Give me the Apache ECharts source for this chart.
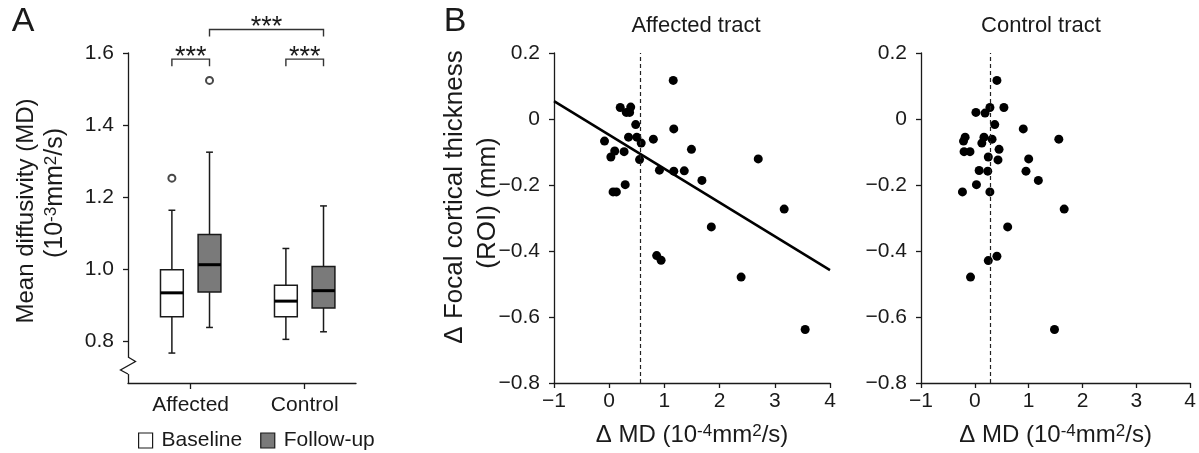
<!DOCTYPE html>
<html><head><meta charset="utf-8">
<script src="https://cdn.jsdelivr.net/npm/echarts@6/dist/echarts.min.js"></script>
<style>html,body{margin:0;padding:0;background:#fff}#c{width:1199px;height:453px}</style>
</head><body><div id="c"></div>
<script>
// ---------------- DATA ----------------
const groups = ['Affected', 'Control'];
const conditions = ['Baseline', 'Follow-up'];
// box statistics per group: [lower whisker, Q1, median, Q3, upper whisker]
const baselineBox = [[0.768, 0.869, 0.935, 0.999, 1.164], [0.806, 0.869, 0.912, 0.956, 1.058]];
const followupBox = [[0.839, 0.937, 1.013, 1.097, 1.325], [0.827, 0.893, 0.941, 1.008, 1.176]];
// outliers: [group index, value]
const baselineOutliers = [[0, 1.253]];
const followupOutliers = [[0, 1.524]];
const yTicksA = [0.8, 1.0, 1.2, 1.4, 1.6];
// significance brackets: [group, condition] -> [group, condition]
const sigFrom = [[0, 0], [1, 0], [0, 1]];
const sigTo = [[0, 1], [1, 1], [1, 1]];
const sigLabel = ['***', '***', '***'];
const sigLevel = [1.583, 1.583, 1.665];

const affectedMD = [1.16, 0.20, 0.39, 0.31, 0.37, 0.48, 1.17, 0.35, 0.50, 0.58, 0.80, -0.085, 0.10, 0.03, 0.27, 1.49, 0.55, 2.70, 0.91, 1.17, 1.36, 1.68, 0.29, 0.07, 0.13, 3.17, 1.85, 0.86, 0.94, 2.39, 3.55];
const affectedThick = [0.117, 0.035, 0.036, 0.020, 0.020, -0.017, -0.030, -0.055, -0.055, -0.073, -0.061, -0.067, -0.097, -0.115, -0.099, -0.092, -0.123, -0.121, -0.155, -0.158, -0.157, -0.186, -0.199, -0.221, -0.221, -0.273, -0.327, -0.414, -0.428, -0.479, -0.638];
const controlMD = [0.41, 0.02, 0.19, 0.28, 0.54, 0.37, 0.90, -0.18, -0.21, 0.17, 0.13, 0.32, 1.56, -0.20, -0.09, 0.45, 0.25, 0.43, 1.00, 0.08, 0.24, 0.95, 1.18, 0.03, -0.23, 0.28, 1.66, 0.61, 0.41, 0.25, -0.08, 1.48];
const controlThick = [0.117, 0.020, 0.018, 0.035, 0.035, -0.017, -0.030, -0.055, -0.067, -0.055, -0.073, -0.061, -0.061, -0.099, -0.099, -0.092, -0.115, -0.124, -0.121, -0.156, -0.158, -0.158, -0.186, -0.199, -0.221, -0.221, -0.273, -0.327, -0.416, -0.429, -0.479, -0.638];
const affectedMeanMD = 0.56;
const controlMeanMD = 0.28;
const fitMD = [-1, 4];
const fitThick = [0.054, -0.458];

// ---------------- LAYOUT ----------------
const FONT = '"Liberation Sans", Arial, sans-serif';
const INK = '#1a1a1a';
const groupPos = [1.1, 3.1];
const condOffset = [-0.33, 0.33];
const BOX_W = 0.4, CAP_W = 0.12;
const posOf = (g, c) => groupPos[g] + condOffset[c];

const toBoxData = (stats, c) => stats.map((s, g) => [posOf(g, c)].concat(s));
const toOutData = (arr, c) => arr.map(o => [posOf(o[0], c), o[1]]);
const zip = (a, b) => a.map((v, i) => [v, b[i]]);
const minusFmt = v => (v === 0 ? '0' : String(+v.toFixed(1)).replace('-', '\u2212'));

function renderBox(params, api) {
  const x = api.value(0);
  const lo = api.coord([x, api.value(1)]), q1 = api.coord([x, api.value(2)]),
        md = api.coord([x, api.value(3)]), q3 = api.coord([x, api.value(4)]),
        hi = api.coord([x, api.value(5)]);
  const hw = api.size([BOX_W, 0])[0] / 2, cw = api.size([CAP_W, 0])[0] / 2;
  const ls = { stroke: INK, lineWidth: 1.5 };
  return { type: 'group', children: [
    { type: 'line', shape: { x1: hi[0], y1: hi[1], x2: q3[0], y2: q3[1] }, style: ls },
    { type: 'line', shape: { x1: q1[0], y1: q1[1], x2: lo[0], y2: lo[1] }, style: ls },
    { type: 'line', shape: { x1: hi[0] - cw, y1: hi[1], x2: hi[0] + cw, y2: hi[1] }, style: ls },
    { type: 'line', shape: { x1: lo[0] - cw, y1: lo[1], x2: lo[0] + cw, y2: lo[1] }, style: ls },
    { type: 'rect', shape: { x: q3[0] - hw, y: q3[1], width: 2 * hw, height: q1[1] - q3[1] },
      style: { fill: api.visual('color'), stroke: INK, lineWidth: 1.5 } },
    { type: 'line', shape: { x1: md[0] - hw, y1: md[1], x2: md[0] + hw, y2: md[1] }, style: { stroke: '#000', lineWidth: 3 } }
  ] };
}
function renderBracket(params, api) {
  const a = api.coord([api.value(0), api.value(2)]);
  const b = api.coord([api.value(1), api.value(2)]);
  const drop = 7;
  return { type: 'group', children: [
    { type: 'polyline', shape: { points: [[a[0], a[1] + drop], a, b, [b[0], b[1] + drop]] },
      style: { stroke: '#333', lineWidth: 1.4, fill: null } },
    { type: 'text', x: (a[0] + b[0]) / 2, y: a[1] - 2,
      style: { text: sigLabel[params.dataIndex], fontSize: 27, fontFamily: FONT, fill: INK, align: 'center', verticalAlign: 'middle' } }
  ] };
}
const bracketData = sigFrom.map((f, i) => [posOf(f[0], f[1]), posOf(sigTo[i][0], sigTo[i][1]), sigLevel[i]]);

const axisLineStyle = { onZero: false, lineStyle: { color: INK, width: 1.3 } };
const tickStyle = { show: true, length: 5, lineStyle: { color: INK, width: 1.3 } };
const labelStyle = { color: INK, fontSize: 21, fontFamily: FONT };

function scatterX(idx) {
  return { gridIndex: idx, type: 'value', min: -1, max: 4, interval: 1,
    axisLine: axisLineStyle, axisTick: tickStyle, splitLine: { show: false },
    axisLabel: Object.assign({ margin: 8, formatter: minusFmt }, labelStyle),
    name: '\u0394 MD (10{sup|-4}mm{sup|2}/s)', nameLocation: 'middle', nameGap: 40,
    nameTextStyle: { fontSize: 24, fontFamily: FONT, color: INK, rich: { sup: { fontSize: 17, verticalAlign: 'top', fontFamily: FONT, color: INK } } } };
}
function scatterY(idx) {
  return { gridIndex: idx, type: 'value', min: -0.8, max: 0.2, interval: 0.2,
    axisLine: axisLineStyle, axisTick: tickStyle, splitLine: { show: false },
    axisLabel: Object.assign({ margin: 14, formatter: minusFmt }, labelStyle) };
}

const chart = echarts.init(document.getElementById('c'), null, { renderer: 'canvas' });
chart.setOption({
  animation: false,
  backgroundColor: '#fff',
  textStyle: { fontFamily: FONT, color: INK },
  grid: [
    { left: 128, top: 53, width: 228, height: 330 },
    { left: 554, top: 53, width: 276, height: 330 },
    { left: 921, top: 53, width: 271, height: 330 }
  ],
  xAxis: [
    { gridIndex: 0, type: 'value', min: 0, max: 4,
      axisLine: axisLineStyle, splitLine: { show: false },
      axisTick: Object.assign({ customValues: groupPos }, tickStyle, { length: 6 }),
      axisLabel: Object.assign({ customValues: groupPos, margin: 12,
        formatter: v => groups[groupPos.indexOf(v)] }, labelStyle) },
    scatterX(1), scatterX(2)
  ],
  yAxis: [
    { gridIndex: 0, type: 'value', min: 0.685, max: 1.6,
      axisLine: axisLineStyle, splitLine: { show: false },
      axisTick: Object.assign({ customValues: yTicksA }, tickStyle),
      axisLabel: Object.assign({ customValues: yTicksA, margin: 14, formatter: v => v.toFixed(1) }, labelStyle) },
    scatterY(1), scatterY(2)
  ],
  legend: {
    data: conditions, left: 133, top: 425, icon: 'rect', itemWidth: 14, itemHeight: 15, itemGap: 18,
    textStyle: { fontSize: 21, fontFamily: FONT, color: INK, padding: [0, 0, 0, 4] },
    itemStyle: { borderColor: INK, borderWidth: 1.2 }, selectedMode: false
  },
  series: [
    { name: conditions[0], type: 'custom', xAxisIndex: 0, yAxisIndex: 0, renderItem: renderBox,
      itemStyle: { color: '#ffffff', borderColor: INK, borderWidth: 1.2 },
      encode: { x: 0, y: [1, 2, 3, 4, 5] }, data: toBoxData(baselineBox, 0), z: 3 },
    { name: conditions[1], type: 'custom', xAxisIndex: 0, yAxisIndex: 0, renderItem: renderBox,
      itemStyle: { color: '#7a7a7a', borderColor: INK, borderWidth: 1.2 },
      encode: { x: 0, y: [1, 2, 3, 4, 5] }, data: toBoxData(followupBox, 1), z: 3 },
    { name: 'Baseline outliers', type: 'scatter', xAxisIndex: 0, yAxisIndex: 0, symbol: 'emptyCircle', symbolSize: 7,
      itemStyle: { color: INK, borderWidth: 1.3 }, data: toOutData(baselineOutliers, 0) },
    { name: 'Follow-up outliers', type: 'scatter', xAxisIndex: 0, yAxisIndex: 0, symbol: 'emptyCircle', symbolSize: 7,
      itemStyle: { color: INK, borderWidth: 1.3 }, data: toOutData(followupOutliers, 1) },
    { name: 'Significance', type: 'custom', xAxisIndex: 0, yAxisIndex: 0, renderItem: renderBracket,
      clip: false, encode: { x: [0, 1], y: 2 }, data: bracketData },
    { name: 'Affected tract', type: 'scatter', xAxisIndex: 1, yAxisIndex: 1, symbolSize: 9,
      itemStyle: { color: '#000', opacity: 1 }, data: zip(affectedMD, affectedThick),
      markLine: { silent: true, symbol: 'none', label: { show: false },
        lineStyle: { type: [4, 3], color: '#222', width: 1.2 }, data: [{ xAxis: affectedMeanMD }] } },
    { name: 'Fit', type: 'line', xAxisIndex: 1, yAxisIndex: 1, symbol: 'none',
      lineStyle: { color: '#000', width: 2.5 }, data: zip(fitMD, fitThick) },
    { name: 'Control tract', type: 'scatter', xAxisIndex: 2, yAxisIndex: 2, symbolSize: 9,
      itemStyle: { color: '#000', opacity: 1 }, data: zip(controlMD, controlThick),
      markLine: { silent: true, symbol: 'none', label: { show: false },
        lineStyle: { type: [4, 3], color: '#222', width: 1.2 }, data: [{ xAxis: controlMeanMD }] } }
  ]
});

// axis break and text annotations
const br = chart.convertToPixel({ gridIndex: 0 }, [0, 0.732]);
const ax = br[0], by = br[1];
const txt = (x, y, text, size, extra) => ({ type: 'text', x, y, rotation: (extra && extra.rot) || 0, silent: true,
  style: Object.assign({ text, fontSize: size, fontFamily: FONT, fill: INK, align: 'center', verticalAlign: 'middle',
    rich: { sup: { fontSize: Math.round(size * 0.68), verticalAlign: 'top', fontFamily: FONT, color: INK } } }, (extra && extra.style) || {}) });
chart.setOption({
  graphic: [
    { type: 'rect', shape: { x: ax - 3, y: by - 9, width: 6, height: 17 }, style: { fill: '#fff' }, z: 100, silent: true },
    { type: 'polyline', shape: { points: [[ax, by - 9], [ax + 7.5, by - 4.5], [ax - 7.5, by + 4], [ax, by + 8]] },
      style: { stroke: INK, lineWidth: 1.3, fill: null }, z: 101, silent: true },
    txt(23, 22, 'A', 34),
    txt(455, 22, 'B', 34),
    txt(26, 211, 'Mean diffusivity (MD)', 24, { rot: Math.PI / 2 }),
    txt(55, 193, '(10{sup|-3}mm{sup|2}/s)', 25, { rot: Math.PI / 2 }),
    txt(455, 197, '\u0394 Focal cortical thickness', 26, { rot: Math.PI / 2 }),
    txt(488, 203, '(ROI) (mm)', 26, { rot: Math.PI / 2 }),
    txt(696, 26, 'Affected tract', 22),
    txt(1041, 26, 'Control tract', 22)
  ]
});
</script></body></html>
